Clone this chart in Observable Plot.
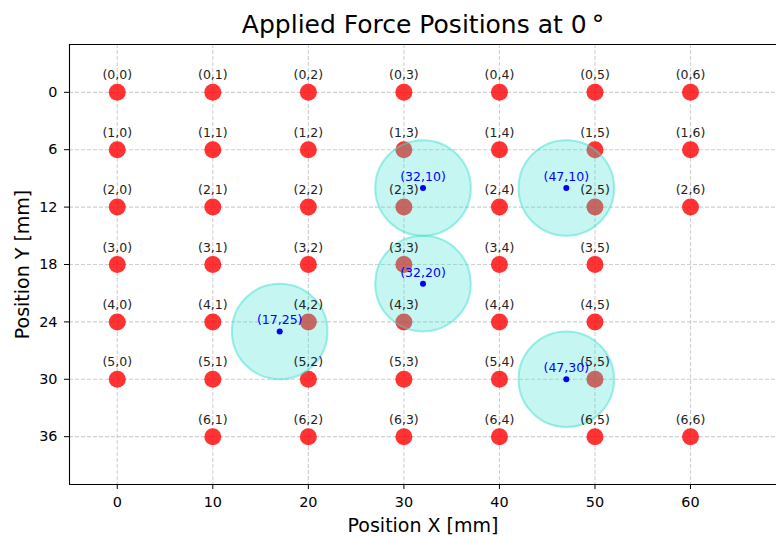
<!DOCTYPE html>
<html>
<head>
<meta charset="utf-8">
<script src="https://cdn.jsdelivr.net/npm/d3@7"></script>
<script src="https://cdn.jsdelivr.net/npm/@observablehq/plot@0.6"></script>
<style>
  html, body { margin: 0; padding: 0; background: #fff; }
  #chart svg { display: block; }
</style>
</head>
<body>
<div id="chart"></div>
<script>
// ---- data ----
const colX = [0, 10, 20, 30, 40, 50, 60];          // mm, column positions
const rowY = [0, 6, 12, 18, 24, 30, 36];           // mm, row positions
// sensor cells present: [row, col]
const sensorCells = [
  [0,0],[0,1],[0,2],[0,3],[0,4],[0,5],[0,6],
  [1,0],[1,1],[1,2],[1,3],[1,4],[1,5],[1,6],
  [2,0],[2,1],[2,2],[2,3],[2,4],[2,5],[2,6],
  [3,0],[3,1],[3,2],[3,3],[3,4],[3,5],
  [4,0],[4,1],[4,2],[4,3],[4,4],[4,5],
  [5,0],[5,1],[5,2],[5,3],[5,4],[5,5],
  [6,1],[6,2],[6,3],[6,4],[6,5],[6,6]
];
const forceX = [32, 47, 32, 17, 47];
const forceY = [10, 10, 20, 25, 30];
const forceRadius = 5; // mm
const xTicks = [0, 10, 20, 30, 40, 50, 60];
const yTicks = [0, 6, 12, 18, 24, 30, 36];
const xDomain = [-5, 69];
const yDomain = [-5, 41];
const titleText = "Applied Force Positions at 0\u2009\u00b0";
const xLabel = "Position X [mm]";
const yLabel = "Position Y [mm]";

// ---- derived tables ----
const sensors = sensorCells.map(([r, c]) => ({x: colX[c], y: rowY[r], label: `(${r},${c})`}));
const forces = forceX.map((x, i) => ({x, y: forceY[i], r: forceRadius, label: `(${x},${forceY[i]})`}));

const width = 776, height = 536;
const marginLeft = 69, marginRight = 0, marginTop = 44, marginBottom = 52;
const plotWidth = width - marginLeft - marginRight;
const font = "DejaVu Sans, sans-serif";

const chart = Plot.plot({
  width, height, marginLeft, marginRight, marginTop, marginBottom,
  style: {fontFamily: font, fontSize: "14px", color: "#000", background: "#fff"},
  x: {domain: xDomain, label: null},
  y: {domain: yDomain, reverse: true, label: null},
  r: {type: "linear", domain: [0, xDomain[1] - xDomain[0]], range: [0, plotWidth]},
  marks: [
    Plot.gridX(xTicks, {stroke: "#b0b0b0", strokeOpacity: 0.6, strokeWidth: 1.1, strokeDasharray: "4,2"}),
    Plot.gridY(yTicks, {stroke: "#b0b0b0", strokeOpacity: 0.6, strokeWidth: 1.1, strokeDasharray: "4,2"}),
    Plot.axisX({ticks: xTicks, tickSize: 5, tickPadding: 7, fontSize: 14.4, label: null}),
    Plot.axisY({ticks: yTicks, tickSize: 5, tickPadding: 7, fontSize: 14.4, label: null}),
    Plot.ruleY([yDomain[0], yDomain[1]], {stroke: "#000", strokeWidth: 1.1}),
    Plot.ruleX([xDomain[0]], {stroke: "#000", strokeWidth: 1.1}),
    Plot.dot(sensors, {x: "x", y: "y", r: 8.5, fill: "red", fillOpacity: 0.8, stroke: null}),
    Plot.dot(forces, {x: "x", y: "y", r: "r", fill: "turquoise", fillOpacity: 0.3, stroke: "turquoise", strokeOpacity: 0.5, strokeWidth: 2}),
    Plot.dot(forces, {x: "x", y: "y", r: 3, fill: "blue", stroke: null}),
    Plot.text(sensors, {x: "x", y: "y", text: "label", dy: -17, fontSize: 12.5, fill: "#222"}),
    Plot.text(forces, {x: "x", y: "y", text: "label", dy: -11, fontSize: 12.5, fill: "blue"}),
    Plot.text([titleText], {frameAnchor: "top", lineAnchor: "middle", textAnchor: "middle", dy: -20, fontSize: 25, fill: "#000"}),
    Plot.text([xLabel], {frameAnchor: "bottom", lineAnchor: "middle", textAnchor: "middle", dy: 41, fontSize: 19, fill: "#000"}),
    Plot.text([yLabel], {frameAnchor: "left", lineAnchor: "middle", textAnchor: "middle", dx: -47, rotate: -90, fontSize: 19, fill: "#000"})
  ]
});
document.getElementById("chart").appendChild(chart);
</script>
</body>
</html>
